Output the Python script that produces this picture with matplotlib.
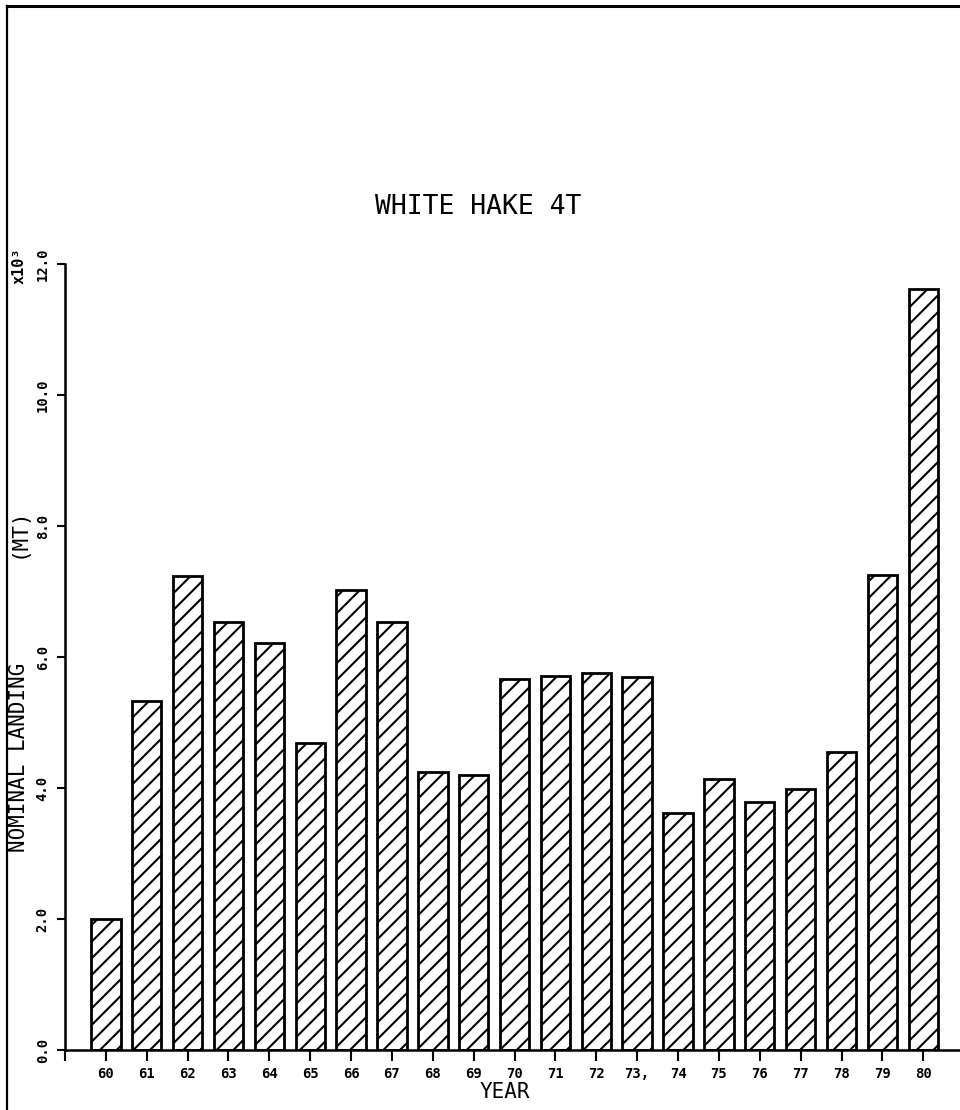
import matplotlib as mpl
mpl.use('Agg')
from matplotlib import pyplot as plt
from matplotlib.lines import Line2D

# nominal landings, white hake 4T (x10^3 MT)
years = [60, 61, 62, 63, 64, 65, 66, 67, 68, 69, 70,
         71, 72, 73, 74, 75, 76, 77, 78, 79, 80]
landings = [2.00, 5.33, 7.23, 6.53, 6.21, 4.69, 7.02, 6.53, 4.25, 4.20, 5.66,
            5.71, 5.76, 5.70, 3.62, 4.14, 3.78, 3.99, 4.55, 7.25, 11.62]
year_labels = ['60', '61', '62', '63', '64', '65', '66', '67', '68', '69', '70',
               '71', '72', '73,', '74', '75', '76', '77', '78', '79', '80']
yticks = [0, 2, 4, 6, 8, 10, 12]
ytick_labels = ['0.0', '2.0', '4.0', '6.0', '8.0', '10.0', '12.0']

W, H = 960, 1110


def setup_figure():
    plt.rcParams.update({'font.family': 'DejaVu Sans Mono',
                         'hatch.linewidth': 1.5,
                         'hatch.color': 'black'})
    fig = plt.figure(figsize=(W / 100, H / 100), dpi=100)

    # axes: y axis at x=65px, 0 at y=1050px, 12 at y=264px, 59 -> 82 on x
    ax = fig.add_axes([65 / W, 1 - 1050 / H, 940 / W, 786 / H])
    ax.bar(years, landings, width=0.72, color='white', edgecolor='black',
           linewidth=2.0, hatch='//', zorder=2)

    ax.set_xlim(59, 82)
    ax.set_ylim(0, 12)
    for s in ['top', 'right']:
        ax.spines[s].set_visible(False)
    for s in ['left', 'bottom']:
        ax.spines[s].set_linewidth(1.8)
    ax.spines['bottom'].set_zorder(3)

    ax.set_xticks([59] + years)
    ax.set_xticklabels([''] + year_labels, fontsize=10, fontweight='bold')
    ax.tick_params(axis='x', direction='out', length=8, width=1.5, pad=4)

    ax.set_yticks(yticks)
    ax.set_yticklabels(ytick_labels, fontsize=10, fontweight='bold',
                       rotation=90, va='center')
    ax.tick_params(axis='y', direction='out', length=6, width=1.5, pad=5)

    fig.text(478 / W, 1 - 207 / H, 'WHITE HAKE 4T', fontsize=19,
             ha='center', va='center')
    fig.text(505 / W, 1 - 1092 / H, 'YEAR', fontsize=15,
             ha='center', va='center')
    fig.text(19 / W, 1 - 757 / H, 'NOMINAL LANDING', fontsize=15,
             rotation=90, ha='center', va='center')
    fig.text(19 / W, 1 - 533 / H, '(MT)', fontsize=15,
             rotation=90, ha='center', va='center')
    fig.text(19 / W, 1 - 266 / H, 'x10³', fontsize=11, fontweight='bold',
             rotation=90, ha='center', va='center')

    # page frame from the original plotter sheet
    fig.add_artist(Line2D([7 / W, 7 / W], [0, 1 - 6 / H],
                          transform=fig.transFigure, color='black', lw=1.6))
    fig.add_artist(Line2D([7 / W, 1], [1 - 6 / H, 1 - 6 / H],
                          transform=fig.transFigure, color='black', lw=2.2))

    fig.savefig('out.png', dpi=100)


if __name__ == "__main__":
    setup_figure()
